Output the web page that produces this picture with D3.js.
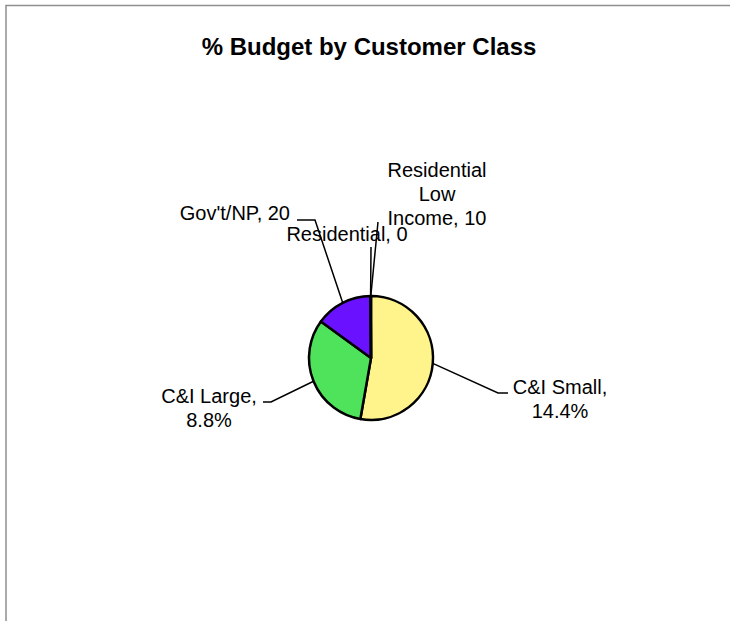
<!DOCTYPE html>
<html lang="en">
<head>
    <meta charset="UTF-8">
    <title>% Budget by Customer Class</title>
    <style>
        html, body { margin: 0; padding: 0; background: #fff; }
        svg { display: block; font-family: "Liberation Sans", Arial, sans-serif; }
        .label { font-size: 20px; fill: #000; }
        .leader { fill: none; stroke: #000; stroke-width: 1.5; }
    </style>
</head>
<body>
    <svg id="chart" width="730" height="621"></svg>

    <script src="https://d3js.org/d3.v7.min.js"></script>
    <script>
        // data (slice shares in % of the circle)
        const categories = ["C&I Small", "C&I Large", "Gov't/NP", "Residential", "Residential Low Income"];
        const shares = [52.8, 32.3, 14.9, 0, 0.1];
        const labelValues = ["14.4%", "8.8%", "20", "0", "10"];
        const colors = ["#fff48c", "#4fe35b", "#6a12ff", "#ffffff", "#cccccc"];

        // label layout: elbow/end of leader line and text block, relative to pie centre
        const labelLayout = [
            { elbow: [127, 35], end: [137, 35], text: [189, 36], lines: ["C&I Small,", "14.4%"], anchor: "middle" },
            { elbow: [-100, 44], end: [-108, 44], text: [-162, 45], lines: ["C&I Large,", "8.8%"], anchor: "middle" },
            { elbow: [-56, -138], end: [-74, -138], text: [-81, -138], lines: ["Gov't/NP, 20"], anchor: "end" },
            { elbow: [0, -111], end: null, text: [-24, -117], lines: ["Residential, 0"], anchor: "middle" },
            { elbow: [7, -136], end: null, text: [66, -181], lines: ["Residential", "Low", "Income, 10"], anchor: "middle" }
        ];

        const svg = d3.select("#chart");
        const cx = 371, cy = 358, radius = 62;

        // frame (only top and left edges show)
        svg.append("path")
            .attr("d", "M6,621V5.5H730")
            .attr("fill", "none")
            .attr("stroke", "#8f8f8f")
            .attr("stroke-width", 1.5);

        svg.append("text")
            .attr("x", 369)
            .attr("y", 55)
            .attr("text-anchor", "middle")
            .style("font-size", "24px")
            .style("font-weight", "bold")
            .text("% Budget by Customer Class");

        const pie = d3.pie().sort(null).value(d => d)(shares);
        const arc = d3.arc().innerRadius(0).outerRadius(radius);

        const g = svg.append("g").attr("transform", `translate(${cx},${cy})`);

        g.selectAll("path.slice")
            .data(pie)
            .enter().append("path")
            .attr("class", "slice")
            .attr("d", arc)
            .attr("fill", (d, i) => colors[i])
            .attr("stroke", "#000")
            .attr("stroke-width", 2.5)
            .attr("stroke-linejoin", "round");

        // leader lines from slice mid-angle on the rim
        pie.forEach((d, i) => {
            const a = (d.startAngle + d.endAngle) / 2;
            const p0 = [radius * Math.sin(a), -radius * Math.cos(a)];
            const lay = labelLayout[i];
            const pts = [p0, lay.elbow];
            if (lay.end) pts.push(lay.end);
            g.append("path")
                .attr("class", "leader")
                .attr("d", d3.line()(pts));

            const t = g.append("text")
                .attr("class", "label")
                .attr("text-anchor", lay.anchor)
                .attr("x", lay.text[0])
                .attr("y", lay.text[1]);
            lay.lines.forEach((s, j) => {
                t.append("tspan")
                    .attr("x", lay.text[0])
                    .attr("dy", j === 0 ? 0 : 24)
                    .text(s);
            });
        });
    </script>
</body>
</html>
